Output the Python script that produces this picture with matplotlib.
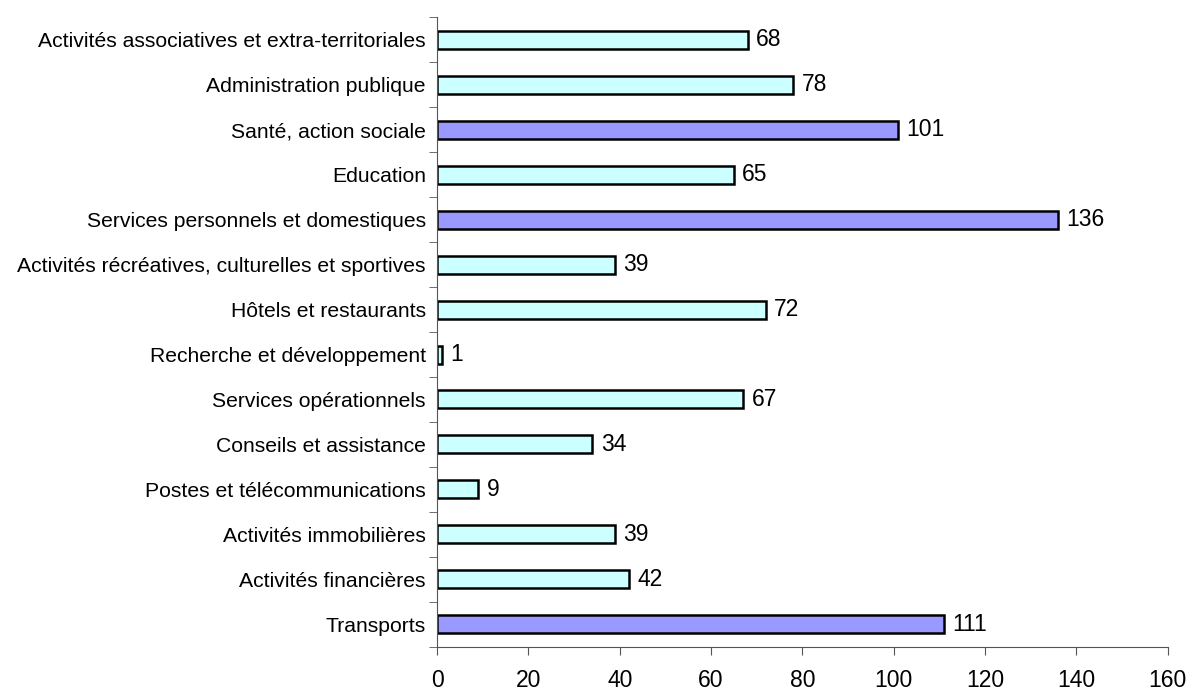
import numpy as np
import matplotlib.pyplot as plt

plt.rcParams['font.family'] = ['Liberation Sans', 'DejaVu Sans']

# bottom to top
categories = ["Transports", "Activités financières", "Activités immobilières",
              "Postes et télécommunications", "Conseils et assistance",
              "Services opérationnels", "Recherche et développement",
              "Hôtels et restaurants", "Activités récréatives, culturelles et sportives",
              "Services personnels et domestiques", "Education",
              "Santé, action sociale", "Administration publique",
              "Activités associatives et extra-territoriales"]
values = [111, 42, 39, 9, 34, 67, 1, 72, 39, 136, 65, 101, 78, 68]
highlight = [True, False, False, False, False, False, False, False, False,
             True, False, True, False, False]

light = "#CCFFFF"
dark = "#9999FF"

fig = plt.figure(figsize=(11.99, 6.98), dpi=100)
ax = fig.add_axes([0.3645, 0.0731, 0.6095, 0.9025])

y = np.arange(len(categories))
colors = [dark if h else light for h in highlight]
ax.barh(y, values, height=0.4, color=colors, edgecolor="black", linewidth=1.8)

for yi, v in zip(y, values):
    ax.annotate(str(v), (v, yi), xytext=(6, 0), textcoords="offset points",
                va="center", ha="left", fontsize=16.5)

ax.set_xlim(0, 160)
ax.set_ylim(-0.5, len(categories) - 0.5)
ax.set_xticks(np.arange(0, 161, 20))
ax.set_yticks(y)
ax.set_yticklabels(categories, fontsize=15.2)
ax.set_yticks(np.arange(-0.5, len(categories), 1), minor=True)
ax.tick_params(axis="y", which="major", length=0, pad=8)
ax.tick_params(axis="y", which="minor", length=6, direction="out", color="#555555")
ax.tick_params(axis="x", length=6, direction="out", color="#555555", labelsize=16.5, pad=10)

ax.spines["top"].set_visible(False)
ax.spines["right"].set_visible(False)
ax.spines["left"].set_color("#555555")
ax.spines["bottom"].set_color("#555555")

fig.savefig("out.png", dpi=100)
